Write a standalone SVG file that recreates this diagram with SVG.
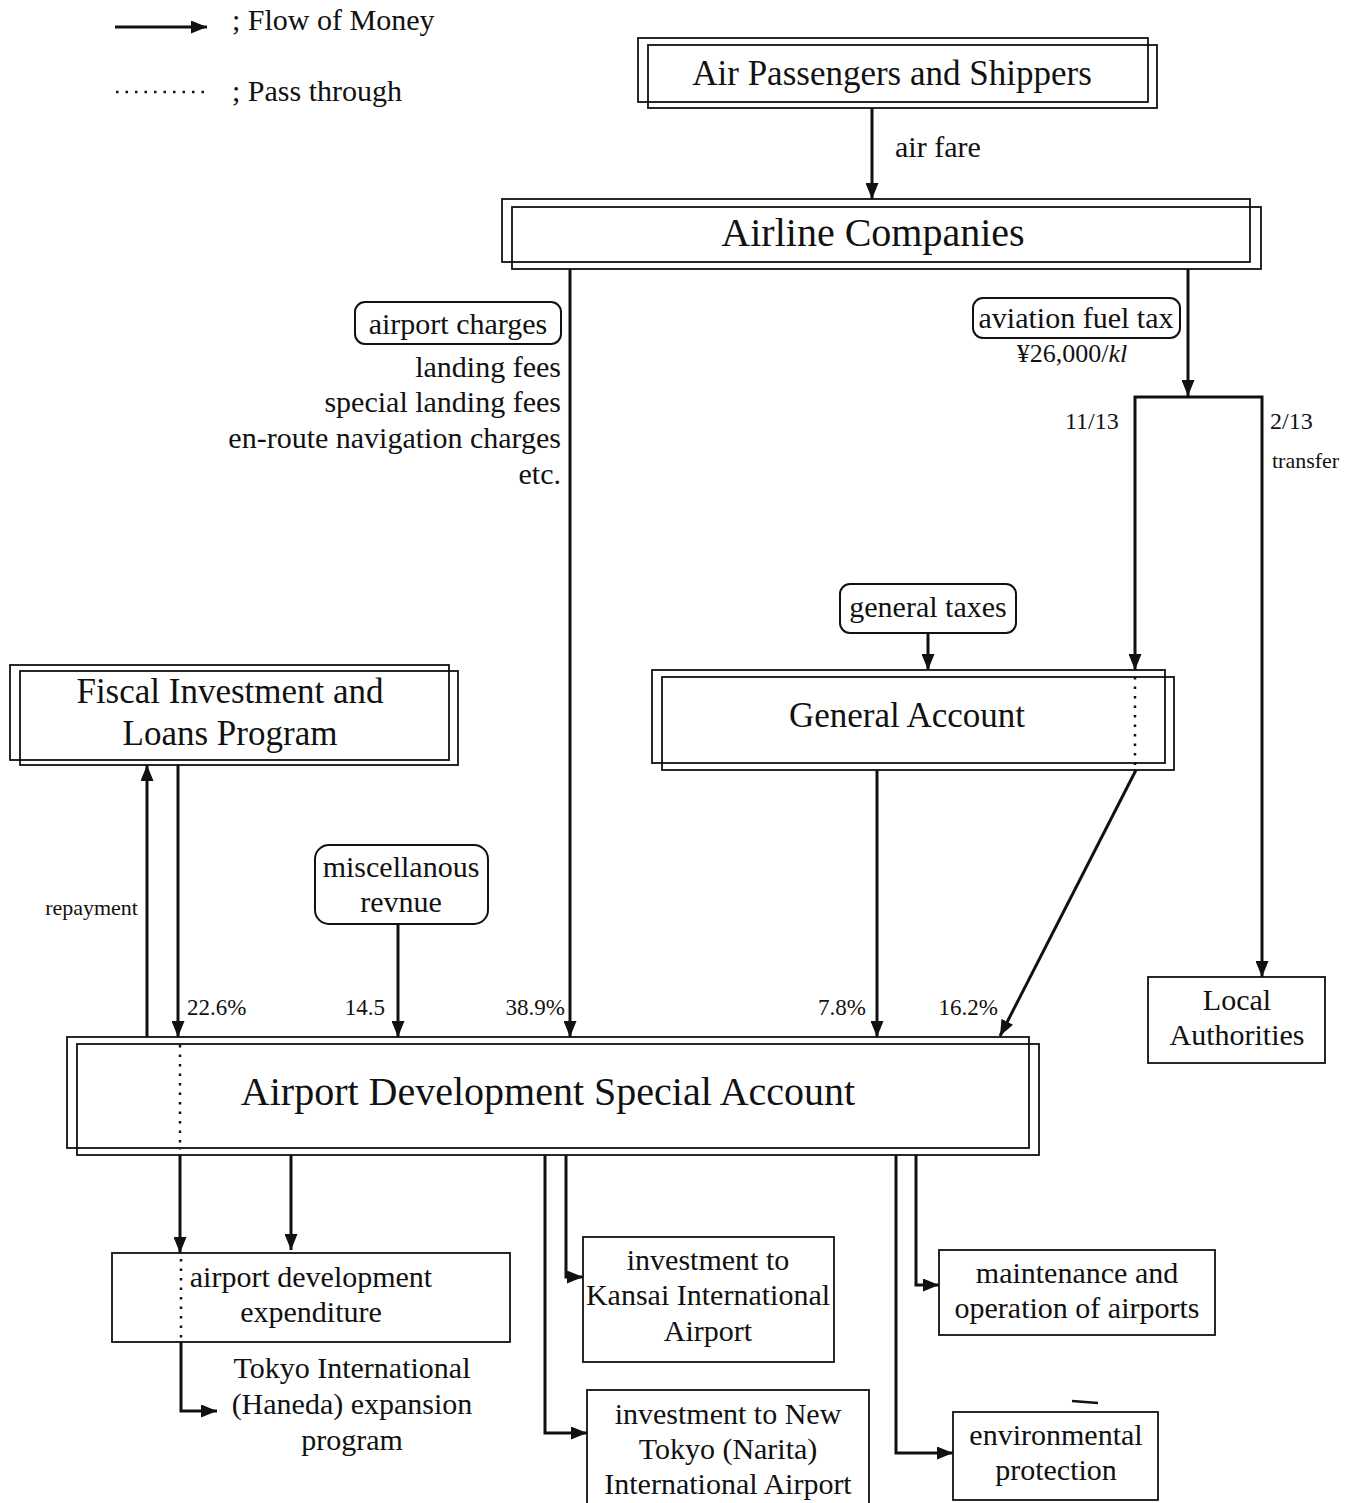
<svg xmlns="http://www.w3.org/2000/svg" width="1362" height="1503" viewBox="0 0 1362 1503">
<style>
text{font-family:"Liberation Serif","Times New Roman",serif;fill:#111;}
.t30{font-size:30px;}
.t35{font-size:35px;}
.t40{font-size:40px;}
.t23{font-size:23px;}
.t22{font-size:22px;}
.m{text-anchor:middle;}
.e{text-anchor:end;}
.box{fill:none;stroke:#111;stroke-width:1.8;}
.rbox{fill:#fff;stroke:#111;stroke-width:2;}
.c{fill:none;stroke:#111;stroke-width:3;stroke-linejoin:miter;}
.d{fill:none;stroke:#111;stroke-width:2.5;stroke-dasharray:2.5 7;}
</style>
<defs>
<marker id="ah" viewBox="0 0 16 13" refX="16" refY="6.5" markerWidth="16" markerHeight="13" markerUnits="userSpaceOnUse" orient="auto">
<path d="M0,0 L16,6.5 L0,13 z" fill="#111"/>
</marker>
</defs>
<rect width="1362" height="1503" fill="#fff"/>

<g id="legend">
<line x1="115" y1="27" x2="207" y2="27" class="c" marker-end="url(#ah)"/>
<text x="232" y="30" class="t30">; Flow of Money</text>
<line x1="116" y1="92" x2="210" y2="92" class="d"/>
<text x="232" y="101" class="t30">; Pass through</text>
</g>

<g id="connectors">
<line x1="872" y1="108" x2="872" y2="199" class="c" marker-end="url(#ah)"/>
<line x1="570" y1="269" x2="570" y2="1037" class="c" marker-end="url(#ah)"/>
<line x1="1188" y1="269" x2="1188" y2="396" class="c" marker-end="url(#ah)"/>
<polyline points="1188,397 1135,397 1135,670" class="c" marker-end="url(#ah)"/>
<polyline points="1188,397 1262,397 1262,977" class="c" marker-end="url(#ah)"/>
<line x1="928" y1="633" x2="928" y2="670" class="c" marker-end="url(#ah)"/>
<line x1="1135" y1="677" x2="1135" y2="768" class="d"/>
<line x1="877" y1="770" x2="877" y2="1037" class="c" marker-end="url(#ah)"/>
<line x1="1136" y1="770" x2="1000" y2="1036" class="c" marker-end="url(#ah)"/>
<line x1="147" y1="1037" x2="147" y2="765" class="c" marker-end="url(#ah)"/>
<line x1="178" y1="765" x2="178" y2="1037" class="c" marker-end="url(#ah)"/>
<line x1="398" y1="924" x2="398" y2="1037" class="c" marker-end="url(#ah)"/>
<line x1="180" y1="1045" x2="180" y2="1150" class="d"/>
<line x1="180" y1="1155" x2="180" y2="1253" class="c" marker-end="url(#ah)"/>
<line x1="291" y1="1155" x2="291" y2="1250" class="c" marker-end="url(#ah)"/>
<line x1="181" y1="1259" x2="181" y2="1340" class="d"/>
<polyline points="181,1342 181,1411 217,1411" class="c" marker-end="url(#ah)"/>
<polyline points="566,1155 566,1277 583,1277" class="c" marker-end="url(#ah)"/>
<polyline points="545,1155 545,1433 587,1433" class="c" marker-end="url(#ah)"/>
<polyline points="916,1155 916,1285 939,1285" class="c" marker-end="url(#ah)"/>
<polyline points="896,1155 896,1453 953,1453" class="c" marker-end="url(#ah)"/>
</g>

<g id="air-passengers">
<rect x="638" y="38" width="510" height="64" class="box"/>
<rect x="648" y="45" width="509" height="63" class="box"/>
<text x="892" y="85" class="t35 m">Air Passengers and Shippers</text>
</g>
<text id="air-fare" x="895" y="157" class="t30">air fare</text>

<g id="airline-companies">
<rect x="502" y="199" width="748" height="63" class="box"/>
<rect x="512" y="207" width="749" height="62" class="box"/>
<text x="873" y="246" class="t40 m">Airline Companies</text>
</g>

<g id="airport-charges">
<rect x="355" y="302" width="206" height="42" rx="10" class="rbox"/>
<text x="458" y="334" class="t30 m">airport charges</text>
<text x="561" y="377" class="t30 e">landing fees</text>
<text x="561" y="412" class="t30 e">special landing fees</text>
<text x="561" y="448" class="t30 e">en-route navigation charges</text>
<text x="561" y="484" class="t30 e">etc.</text>
</g>

<g id="aviation-fuel-tax">
<rect x="973" y="298" width="207" height="40" rx="10" class="rbox"/>
<text x="1076" y="328" class="t30 m">aviation fuel tax</text>
<text x="1072" y="362" class="m" style="font-size:26px">¥26,000/<tspan font-style="italic">kl</tspan></text>
</g>
<text x="1065" y="429" style="font-size:24px">11/13</text>
<text x="1270" y="429" style="font-size:24px">2/13</text>
<text x="1272" y="468" class="t22">transfer</text>

<g id="general-taxes">
<rect x="840" y="584" width="176" height="49" rx="10" class="rbox"/>
<text x="928" y="617" class="t30 m">general taxes</text>
</g>

<g id="general-account">
<rect x="652" y="670" width="513" height="93" class="box"/>
<rect x="662" y="677" width="512" height="93" class="box"/>
<text x="907" y="727" class="t35 m">General Account</text>
</g>

<g id="fiscal-investment">
<rect x="10" y="665" width="439" height="95" class="box"/>
<rect x="20" y="671" width="438" height="94" class="box"/>
<text x="230" y="703" class="t35 m">Fiscal Investment and</text>
<text x="230" y="745" class="t35 m">Loans Program</text>
</g>
<text x="138" y="915" class="t22 e">repayment</text>

<g id="misc-revenue">
<rect x="315" y="845" width="173" height="79" rx="14" class="rbox"/>
<text x="401" y="877" class="t30 m">miscellanous</text>
<text x="401" y="912" class="t30 m">revnue</text>
</g>

<g id="local-authorities">
<rect x="1148" y="977" width="177" height="86" class="box"/>
<text x="1237" y="1010" class="t30 m">Local</text>
<text x="1237" y="1045" class="t30 m">Authorities</text>
</g>

<g id="shares">
<text x="187" y="1015" class="t23">22.6%</text>
<text x="385" y="1015" class="t23 e">14.5</text>
<text x="565" y="1015" class="t23 e">38.9%</text>
<text x="866" y="1015" class="t23 e">7.8%</text>
<text x="998" y="1015" class="t23 e">16.2%</text>
</g>

<g id="adsa">
<rect x="67" y="1037" width="962" height="111" class="box"/>
<rect x="77" y="1044" width="962" height="111" class="box"/>
<text x="548" y="1105" class="t40 m">Airport Development Special Account</text>
</g>

<g id="airport-dev-expenditure">
<rect x="112" y="1253" width="398" height="89" class="box"/>
<text x="311" y="1287" class="t30 m">airport development</text>
<text x="311" y="1322" class="t30 m">expenditure</text>
</g>
<g id="haneda">
<text x="352" y="1378" class="t30 m">Tokyo International</text>
<text x="352" y="1414" class="t30 m">(Haneda) expansion</text>
<text x="352" y="1450" class="t30 m">program</text>
</g>

<g id="kansai">
<rect x="583" y="1237" width="251" height="125" class="box"/>
<text x="708" y="1270" class="t30 m">investment to</text>
<text x="708" y="1305" class="t30 m">Kansai International</text>
<text x="708" y="1341" class="t30 m">Airport</text>
</g>

<g id="narita">
<rect x="587" y="1390" width="282" height="120" class="box"/>
<text x="728" y="1424" class="t30 m">investment to New</text>
<text x="728" y="1459" class="t30 m">Tokyo (Narita)</text>
<text x="728" y="1494" class="t30 m">International Airport</text>
</g>

<g id="maintenance">
<rect x="939" y="1250" width="276" height="85" class="box"/>
<text x="1077" y="1283" class="t30 m">maintenance and</text>
<text x="1077" y="1318" class="t30 m">operation of airports</text>
</g>

<g id="environmental">
<rect x="953" y="1412" width="205" height="88" class="box"/>
<text x="1056" y="1445" class="t30 m">environmental</text>
<text x="1056" y="1480" class="t30 m">protection</text>
</g>
<path d="M1072,1401 L1098,1403" stroke="#111" stroke-width="2.5"/>
</svg>
